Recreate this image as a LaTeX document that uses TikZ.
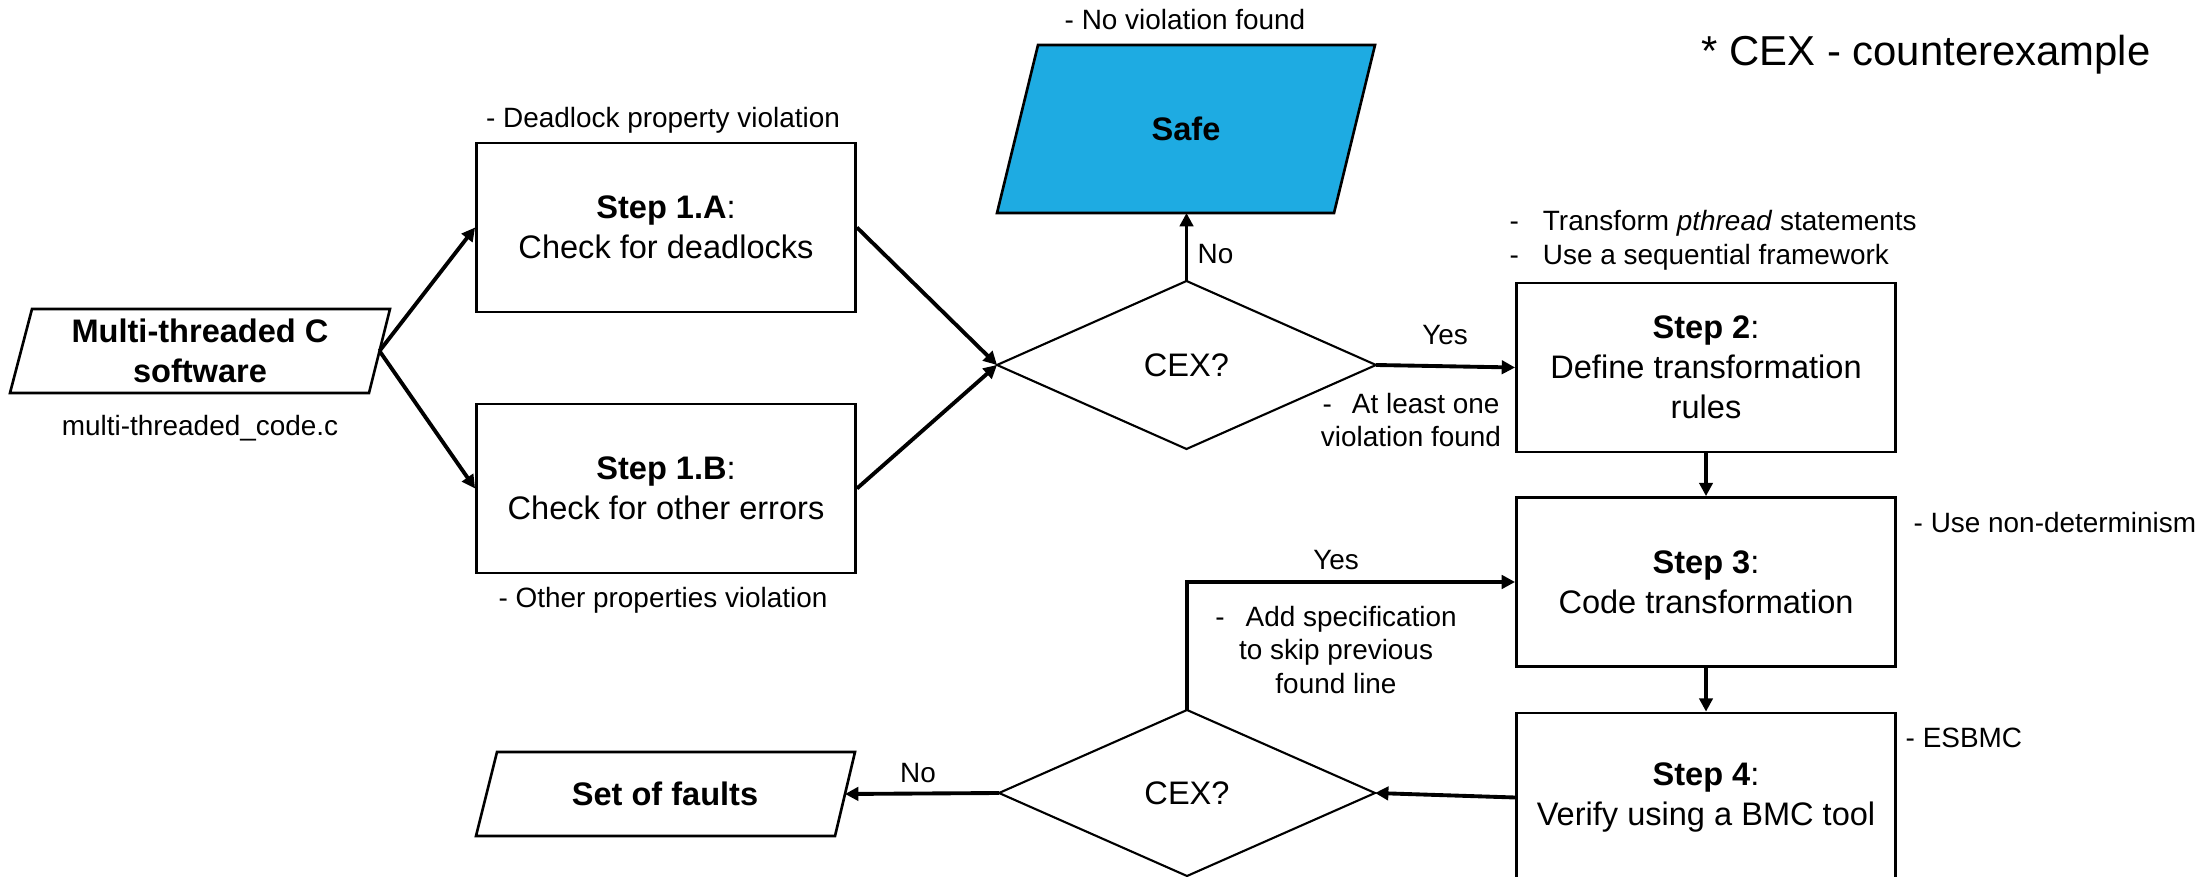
\documentclass[tikz,border=0pt]{standalone}
\usepackage{fontspec}
\setmainfont{Liberation Sans}
\usetikzlibrary{arrows.meta}
\definecolor{safeblue}{RGB}{30,171,226}
\begin{document}
\begin{tikzpicture}[x=0.01cm,y=-0.01cm,
  boxtxt/.style={font=\fontsize{9.26}{11.4}\selectfont},
  lbl/.style={font=\fontsize{7.94}{9.6}\selectfont, inner sep=0pt},
  stepbox/.style={draw, line width=0.75pt, minimum width=3.79cm, minimum height=1.69cm, align=center, boxtxt, inner sep=0pt},
  flow/.style={line width=1.1pt, -{Triangle[length=3.8pt,width=3.8pt]}},
  shapeline/.style={line width=0.75pt, line join=miter},
  dline/.style={line width=0.6pt},
]
\useasboundingbox (0,0) rectangle (2201,877);
\clip (0,0) rectangle (2201,877);

% step boxes
\node[stepbox] (s1a) at (666,227.5) {\textbf{Step 1.A}:\\Check for deadlocks};
\node[stepbox] (s1b) at (666,488.5) {\textbf{Step 1.B}:\\Check for other errors};
\node[stepbox] (s2) at (1706,367.5) {\textbf{Step 2}:\\Define transformation\\rules};
\node[stepbox] (s3) at (1706,582) {\textbf{Step 3}:\\Code transformation};
\node[stepbox] (s4) at (1706,797.5) {\textbf{Step 4}:\\Verify using a BMC tool};

% input parallelogram
\draw[shapeline] (32,309) -- (390,309) -- (369,393) -- (10,393) -- cycle;
\node[boxtxt, align=center, inner sep=0pt] (in) at (200,351) {\textbf{Multi-threaded C}\\\textbf{software}};
\coordinate (inR) at (379.5,351);

% safe parallelogram
\draw[shapeline, fill=safeblue] (1038,45) -- (1375,45) -- (1334,213) -- (997,213) -- cycle;
\node[boxtxt, inner sep=0pt] (safe) at (1186,129) {\textbf{Safe}};
\coordinate (safeB) at (1186.5,213);

% faults parallelogram
\draw[shapeline] (497,752) -- (855,752) -- (835,836) -- (476,836) -- cycle;
\node[boxtxt, inner sep=0pt] (faults) at (665,794) {\textbf{Set of faults}};
\coordinate (faultsR) at (845,794);

% diamond 1
\coordinate (d1W) at (997,365);
\coordinate (d1N) at (1186.5,281);
\coordinate (d1E) at (1376,365);
\coordinate (d1S) at (1186.5,449);
\draw[dline] (d1W) -- (d1N) -- (d1E) -- (d1S) -- cycle;
\node[boxtxt] (c1) at (1186.5,365) {CEX?};

% diamond 2
\coordinate (d2W) at (999,793);
\coordinate (d2N) at (1187,710);
\coordinate (d2E) at (1375,793);
\coordinate (d2S) at (1187,876);
\draw[dline] (d2W) -- (d2N) -- (d2E) -- (d2S) -- cycle;
\node[boxtxt] (c2) at (1187,793) {CEX?};

% connectors
\draw[flow] (inR) -- (s1a.west);
\draw[flow] (inR) -- (s1b.west);
\draw[flow] (s1a.east) -- (d1W);
\draw[flow] (s1b.east) -- (d1W);
\draw[flow] (d1N) -- (safeB);
\draw[flow] (d1E) -- (s2.west);
\draw[flow] (s2.south) -- (s3.north);
\draw[flow] (s3.south) -- (s4.north);
\draw[flow] (s4.west) -- (d2E);
\draw[flow] (d2W) -- (faultsR);
\draw[flow] (d2N) |- (s3.west);

% labels
\node[lbl] (lA) at (663,120) {- Deadlock property violation};
\node[lbl] (lB) at (663,600) {- Other properties violation};
\node[lbl] (lSafe) at (1185,20) {- No violation found};
\node[lbl] (lcode) at (200,428) {multi-threaded\_code.c};
\node[lbl, anchor=west] (lNo1) at (1197,254) {No};
\node[lbl] (lYes1) at (1445,335) {Yes};
\node[lbl, align=center] (lAtl) at (1411,420) {-\hspace{5.7pt}At least one\\violation found};
\node[lbl, align=left, anchor=west] (lT) at (1509,240) {-\hspace{6.8pt}Transform \textit{pthread} statements\\-\hspace{6.8pt}Use a sequential framework};
\node[lbl, anchor=west] (lND) at (1913,523) {- Use non-determinism};
\node[lbl, anchor=west] (lE) at (1905,738) {- ESBMC};
\node[lbl] (lYes2) at (1336,560) {Yes};
\node[lbl, align=center] (lAdd) at (1336,650) {-\hspace{6pt}Add specification\\to skip previous\\found line};
\node[lbl] (lNo2) at (918,773) {No};
\node[font=\fontsize{11.9}{14}\selectfont, inner sep=0pt] (title) at (1926,55) {* CEX - counterexample};
\end{tikzpicture}
\end{document}
